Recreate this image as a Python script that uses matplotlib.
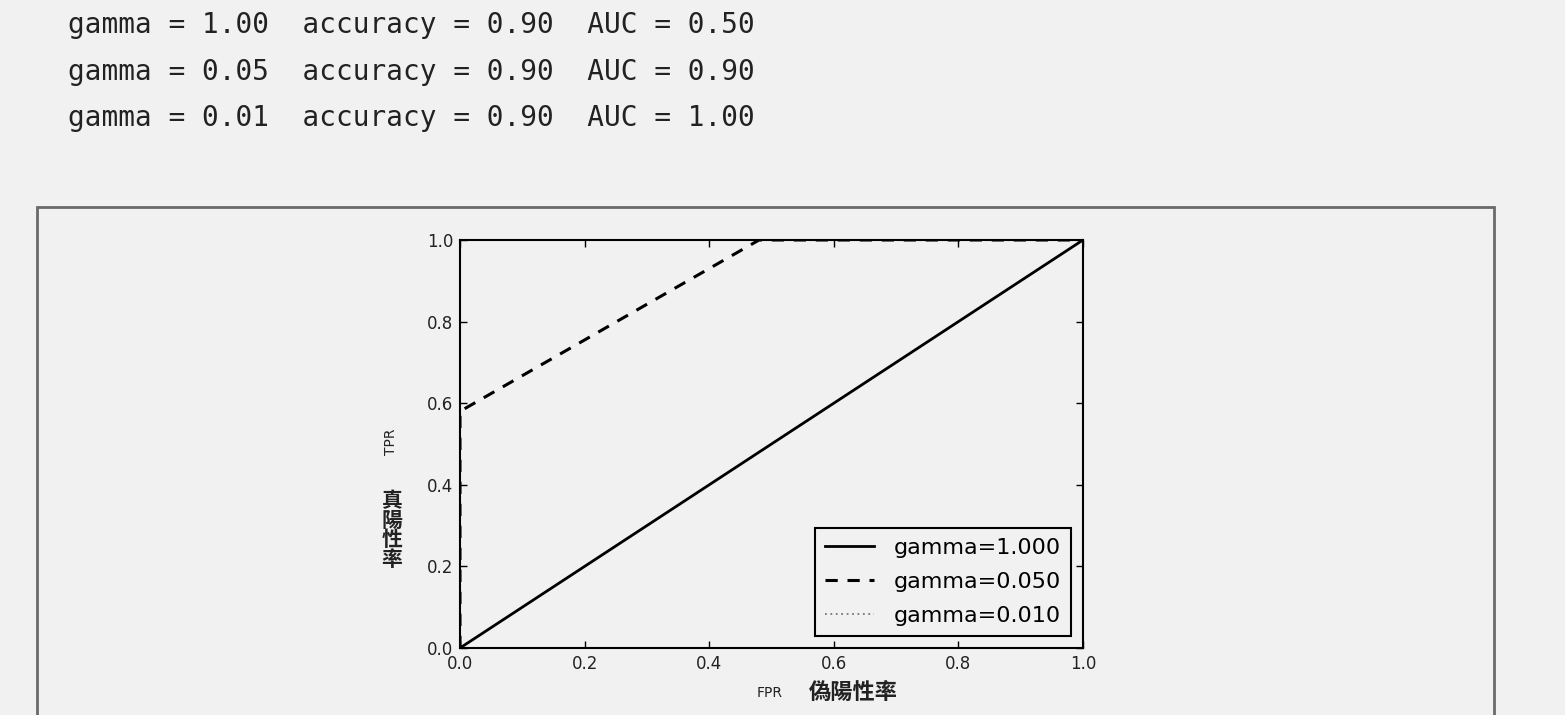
import matplotlib
matplotlib.use("Agg")
import matplotlib.pyplot as plt
from matplotlib.patches import Rectangle

# ---- data ----
gammas = [1.00, 0.05, 0.01]
accuracies = [0.90, 0.90, 0.90]
aucs = [0.50, 0.90, 1.00]

fpr_g1 = [0.0, 1.0]
tpr_g1 = [0.0, 1.0]
fpr_g005 = [0.0, 0.0, 0.48, 1.0]
tpr_g005 = [0.0, 0.58, 1.0, 1.0]
fpr_g001 = [0.0, 0.0, 1.0]
tpr_g001 = [0.0, 1.0, 1.0]

legend_labels = ["gamma=1.000", "gamma=0.050", "gamma=0.010"]
tick_vals = [0.0, 0.2, 0.4, 0.6, 0.8, 1.0]
tick_labels = ["0.0", "0.2", "0.4", "0.6", "0.8", "1.0"]

W, H = 1565, 715
bg = "#f1f1f1"
fig = plt.figure(figsize=(W / 100, H / 100), dpi=100, facecolor=bg)

# printed output lines at top
line_y = [25, 72, 118]
for g, acc, auc, y in zip(gammas, accuracies, aucs, line_y):
    fig.text(68 / W, 1 - y / H,
             f"gamma = {g:.2f}  accuracy = {acc:.2f}  AUC = {auc:.2f}",
             family="DejaVu Sans Mono", fontsize=20, color="#222222",
             va="center", ha="left")

# outer figure box (scanned page frame)
fig.patches.append(Rectangle((37 / W, -0.05), (1494 - 37) / W, (715 - 207) / H + 0.05,
                             transform=fig.transFigure, fill=False,
                             edgecolor="#6a6a6a", linewidth=2.0))

ax = fig.add_axes([460 / W, 1 - 648 / H, (1083 - 460) / W, (648 - 240) / H])
ax.set_facecolor(bg)

ax.plot(fpr_g1, tpr_g1, color="black", linewidth=2.0, linestyle="-",
        label=legend_labels[0])
ax.plot(fpr_g005, tpr_g005, color="black", linewidth=2.2, linestyle=(0, (4, 3.2)),
        label=legend_labels[1])
ax.plot(fpr_g001, tpr_g001, color="#777777", linewidth=1.3, linestyle=(0, (1, 2)),
        label=legend_labels[2])

ax.set_xlim(0, 1)
ax.set_ylim(0, 1)
ax.set_xticks(tick_vals)
ax.set_xticklabels(tick_labels)
ax.set_yticks(tick_vals)
ax.set_yticklabels(tick_labels)
ax.tick_params(direction="in", top=True, right=True, length=5, width=1,
               labelsize=12, colors="black", pad=5)
for lab in ax.get_xticklabels() + ax.get_yticklabels():
    lab.set_color("#222222")
for s in ax.spines.values():
    s.set_linewidth(1.5)
    s.set_color("black")

leg = ax.legend(loc="lower right", fontsize=16, frameon=True, fancybox=False,
                handlelength=2.2, borderaxespad=0.55, labelspacing=0.62,
                handletextpad=0.9, borderpad=0.45)
leg.get_frame().set_edgecolor("black")
leg.get_frame().set_linewidth(1.5)
leg.get_frame().set_facecolor(bg)
leg.get_frame().set_alpha(1)

# axis labels (placed as text in figure pixels)
cjk = ["Noto Sans CJK TC", "DejaVu Sans"]
fig.text(770 / W, 1 - 693 / H, "FPR", fontsize=10, color="#222222",
         ha="center", va="center")
fig.text(853 / W, 1 - 692 / H, "偽陽性率", family=cjk, fontsize=16,
         color="#222222", ha="center", va="center", weight="bold")
fig.text(391 / W, 1 - 442 / H, "TPR", fontsize=10, color="#222222",
         ha="center", va="center", rotation=90)
fig.text(392 / W, 1 - 530 / H, "\n".join("真陽性率"), family=cjk, fontsize=15,
         color="#222222", ha="center", va="center", linespacing=0.92,
         weight="bold")

fig.savefig("out.png", dpi=100, facecolor=bg)
